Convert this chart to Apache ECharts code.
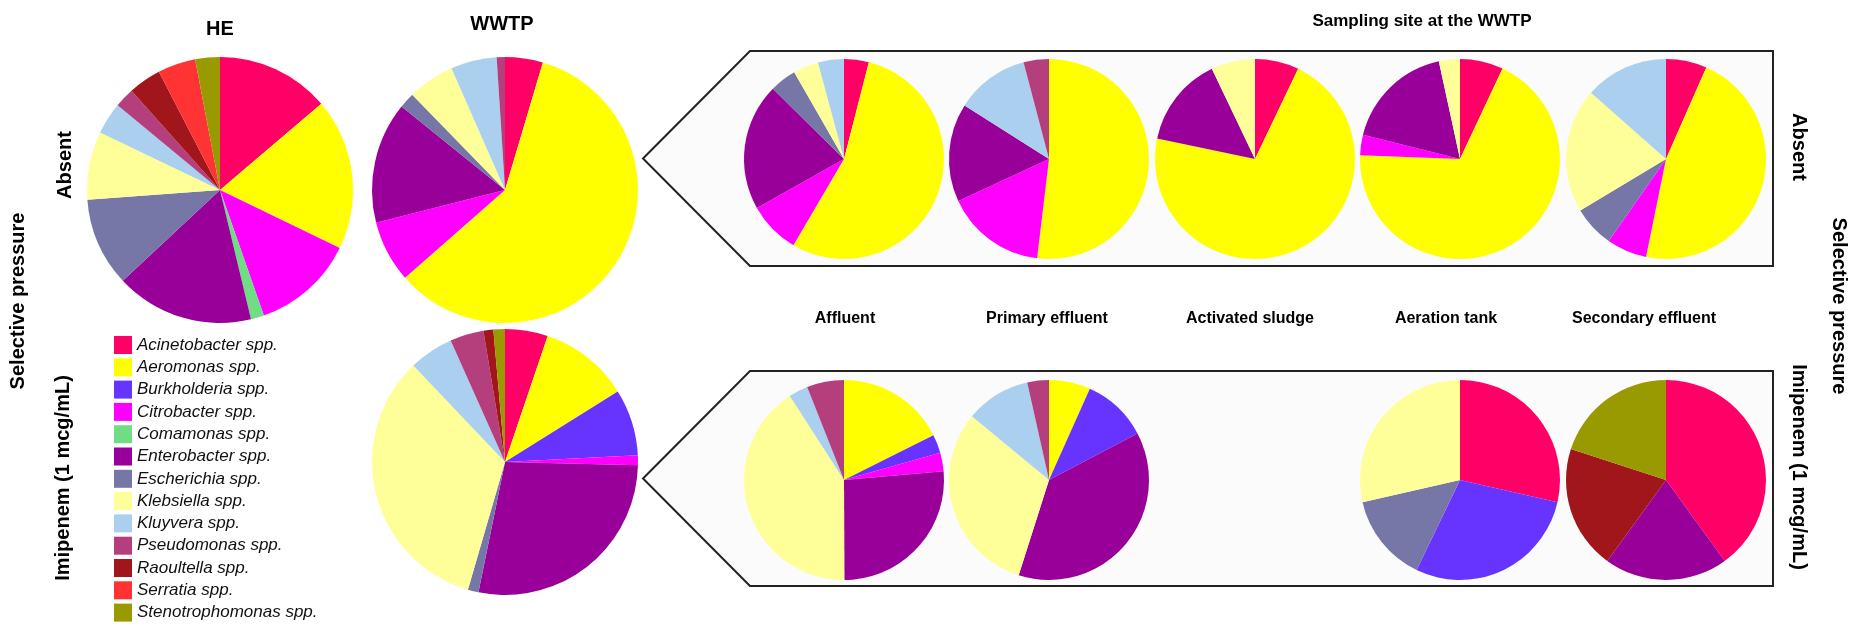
<!DOCTYPE html>
<html>
<head>
<meta charset="utf-8">
<script src="https://cdn.jsdelivr.net/npm/echarts@6/dist/echarts.min.js"></script>
<style>
  html, body { margin: 0; padding: 0; background: #fff; }
  #chart { width: 1866px; height: 631px; }
</style>
</head>
<body>
<div id="chart"></div>
<script>
// species in legend order, pies run clockwise from 12 o'clock in this order
const species = ['Acinetobacter spp.', 'Aeromonas spp.', 'Burkholderia spp.', 'Citrobacter spp.',
  'Comamonas spp.', 'Enterobacter spp.', 'Escherichia spp.', 'Klebsiella spp.', 'Kluyvera spp.',
  'Pseudomonas spp.', 'Raoultella spp.', 'Serratia spp.', 'Stenotrophomonas spp.'];
const colors = ['#ff0066', '#ffff00', '#6633ff', '#ff00ff', '#70dc84', '#990099', '#7777a7',
  '#ffff99', '#abcfee', '#b53f7c', '#a0161a', '#ff3333', '#999900'];

// percentages (%)
const heAbsent = [13.8, 18.4, 0, 12.5, 1.6, 16.8, 10.8, 8.3, 3.9, 2.4, 4.0, 4.6, 3.0];
const wwtpAbsent = [4.6, 59.0, 0, 7.5, 0, 14.8, 1.9, 5.7, 5.6, 1.0, 0, 0, 0];
const wwtpImipenem = [5.2, 10.9, 8.1, 1.2, 0, 27.8, 1.3, 33.4, 5.4, 4.1, 1.2, 0, 1.4];

const sites = ['Affluent', 'Primary effluent', 'Activated sludge', 'Aeration tank', 'Secondary effluent'];
const affluentAbsent = [4.0, 54.5, 0, 8.4, 0, 20.6, 4.3, 4.1, 4.2, 0, 0, 0, 0];
const primaryAbsent = [0, 51.9, 0, 16.2, 0, 15.9, 0, 0, 11.9, 4.1, 0, 0, 0];
const sludgeAbsent = [7.1, 71.2, 0, 0, 0, 14.6, 0, 7.1, 0, 0, 0, 0, 0];
const aerationAbsent = [7.0, 68.6, 0, 3.3, 0, 17.7, 0, 3.4, 0, 0, 0, 0, 0];
const secondaryAbsent = [6.6, 46.6, 0, 6.5, 0, 0, 6.7, 20.1, 13.5, 0, 0, 0, 0];

const affluentImipenem = [0, 17.6, 3.0, 3.0, 0, 26.3, 0, 40.9, 3.1, 6.0, 0, 0, 0];
const primaryImipenem = [0, 6.7, 10.6, 0, 0, 37.6, 0, 31.1, 10.5, 3.5, 0, 0, 0];
const sludgeImipenem = [0, 0, 0, 0, 0, 0, 0, 0, 0, 0, 0, 0, 0];
const aerationImipenem = [28.6, 0, 28.6, 0, 0, 0, 14.3, 28.6, 0, 0, 0, 0, 0];
const secondaryImipenem = [40, 0, 0, 0, 0, 20, 0, 0, 0, 0, 20, 0, 20];

const siteAbsent = [affluentAbsent, primaryAbsent, sludgeAbsent, aerationAbsent, secondaryAbsent];
const siteImipenem = [affluentImipenem, primaryImipenem, sludgeImipenem, aerationImipenem, secondaryImipenem];

const chart = echarts.init(document.getElementById('chart'));

function pie(values, cx, cy, r) {
  const data = [];
  values.forEach((v, i) => {
    if (v > 0) data.push({ name: species[i], value: v, itemStyle: { color: colors[i] } });
  });
  return {
    type: 'pie',
    center: [cx, cy],
    radius: r,
    startAngle: 90,
    clockwise: true,
    silent: true,
    label: { show: false },
    labelLine: { show: false },
    itemStyle: { borderWidth: 0 },
    data: data
  };
}

const series = [
  pie(heAbsent, 220, 190, 133),
  pie(wwtpAbsent, 505, 190, 133),
  pie(wwtpImipenem, 505, 462, 133)
];
const siteX = [844, 1049, 1255, 1460, 1666];
sites.forEach((s, k) => {
  series.push(pie(siteAbsent[k], siteX[k], 159, 100));
  // activated sludge has no isolates under imipenem
  if (siteImipenem[k].reduce((a, b) => a + b, 0) > 0) {
    series.push(pie(siteImipenem[k], siteX[k], 480, 100));
  }
});

const font = 'Liberation Sans, Arial, sans-serif';
function txt(text, x, y, size, weight, rot) {
  return {
    type: 'text', x: x, y: y, rotation: rot || 0, z: 10,
    style: { text: text, fill: '#000', font: weight + ' ' + size + 'px ' + font, align: 'center', verticalAlign: 'middle' }
  };
}
function arrowBox(top, bottom) {
  const mid = (top + bottom) / 2;
  return {
    type: 'polygon', z: 0,
    shape: { points: [[643, mid], [750, top], [1773, top], [1773, bottom], [750, bottom]] },
    style: { fill: '#fbfbfb', stroke: '#222', lineWidth: 2 }
  };
}

const graphics = [
  arrowBox(51, 266),
  arrowBox(371, 586),
  txt('HE', 220, 29, 20, 'bold'),
  txt('WWTP', 502, 24, 20, 'bold'),
  txt('Sampling site at the WWTP', 1422, 21, 17, 'bold'),
  txt('Absent', 65, 165, 20, 'bold', Math.PI / 2),
  txt('Selective pressure', 18, 301, 20, 'bold', Math.PI / 2),
  txt('Imipenem (1 mcg/mL)', 63, 478, 20, 'bold', Math.PI / 2),
  txt('Absent', 1799, 147, 20, 'bold', -Math.PI / 2),
  txt('Selective pressure', 1839, 306, 20, 'bold', -Math.PI / 2),
  txt('Imipenem (1 mcg/mL)', 1799, 467, 20, 'bold', -Math.PI / 2)
];
const labelX = [845, 1047, 1250, 1446, 1644];
sites.forEach((s, k) => graphics.push(txt(s, labelX[k], 319, 16, 'bold')));

chart.setOption({
  animation: false,
  backgroundColor: '#fff',
  legend: {
    data: species,
    orient: 'vertical',
    left: 114,
    top: 336,
    height: 295,
    padding: 0,
    itemWidth: 18,
    itemHeight: 18,
    itemGap: 4.3,
    icon: 'rect',
    selectedMode: false,
    textStyle: { fontFamily: font, fontStyle: 'italic', fontSize: 17, lineHeight: 18, color: '#111' }
  },
  graphic: graphics,
  series: series
});
</script>
</body>
</html>
